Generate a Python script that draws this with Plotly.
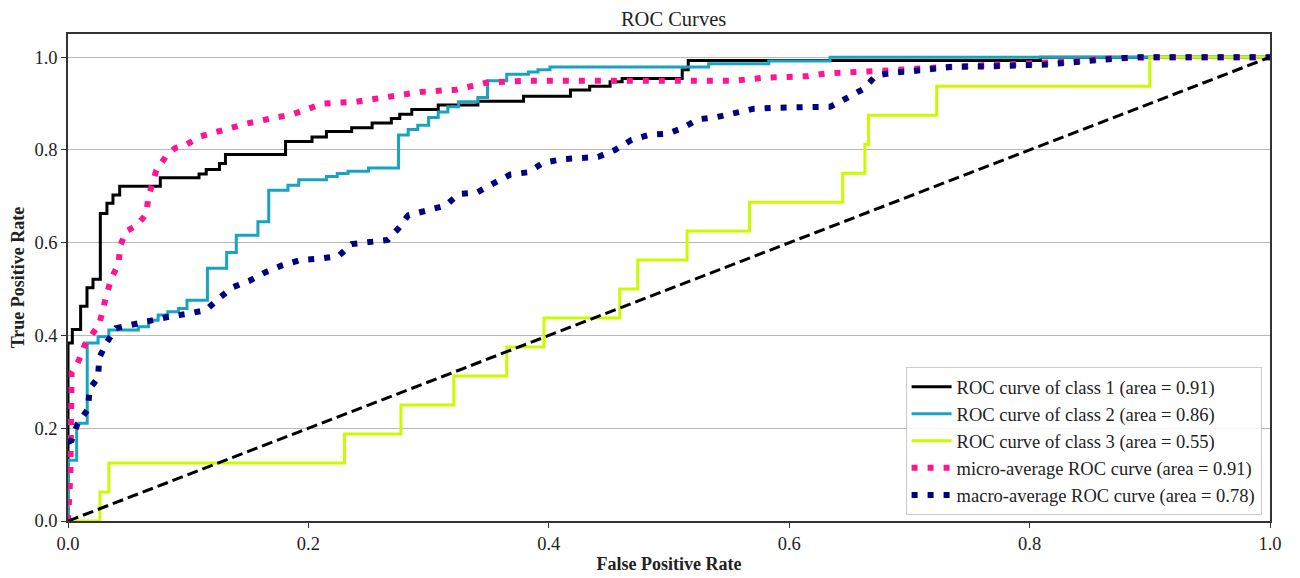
import plotly.graph_objects as go

# ---- data ----
class1_fpr = [0, 0, 0.0036, 0.0105, 0.0158, 0.0208, 0.0269, 0.0324, 0.0374, 0.043, 0.0768, 0.109, 0.115,
              0.126, 0.131, 0.181, 0.203, 0.215, 0.236, 0.253, 0.269, 0.276, 0.286, 0.308, 0.341, 0.379,
              0.418, 0.434, 0.451, 0.461, 0.511, 0.516, 0.809, 1.0]
class1_tpr = [0, 0.384, 0.413, 0.463, 0.503, 0.521, 0.663, 0.685, 0.703, 0.722, 0.740, 0.748, 0.758,
              0.771, 0.790, 0.818, 0.828, 0.840, 0.848, 0.858, 0.868, 0.877, 0.887, 0.897, 0.905, 0.916,
              0.929, 0.9375, 0.947, 0.954, 0.973, 0.993, 1.0, 1.0]

class2_fpr = [0, 0, 0.0072, 0.016, 0.025, 0.034, 0.0585, 0.067, 0.075, 0.083, 0.092, 0.099, 0.116, 0.132,
              0.140, 0.158, 0.167, 0.183, 0.192, 0.215, 0.224, 0.233, 0.25, 0.275, 0.283, 0.291, 0.30,
              0.308, 0.316, 0.325, 0.341, 0.349, 0.365, 0.383, 0.391, 0.401, 0.533, 0.583, 0.634, 1.0]
class2_tpr = [0, 0.131, 0.211, 0.384, 0.397, 0.412, 0.419, 0.433, 0.444, 0.451, 0.458, 0.476, 0.545, 0.579,
              0.616, 0.645, 0.713, 0.724, 0.736, 0.743, 0.749, 0.754, 0.761, 0.832, 0.844, 0.853, 0.870,
              0.882, 0.893, 0.904, 0.913, 0.949, 0.963, 0.968, 0.973, 0.979, 0.986, 0.992, 1.0, 1.0]

class3_fpr = [0, 0.0266, 0.034, 0.230, 0.277, 0.321, 0.365, 0.396, 0.459, 0.474, 0.515, 0.567, 0.6445,
              0.663, 0.666, 0.7227, 0.90, 1.0]
class3_tpr = [0, 0.0625, 0.125, 0.1875, 0.25, 0.3125, 0.375, 0.4375, 0.5, 0.5625, 0.625, 0.6875, 0.75,
              0.8125, 0.875, 0.9375, 1.0, 1.0]

micro_fpr = [0, 0.002, 0.003, 0.008, 0.014, 0.021, 0.026, 0.032, 0.036, 0.042, 0.0435, 0.0485, 0.057,
             0.065, 0.067, 0.0735, 0.082, 0.089, 0.098, 0.11, 0.123, 0.135, 0.147, 0.16, 0.173, 0.187,
             0.212, 0.24, 0.268, 0.293, 0.323, 0.348, 0.379, 0.553, 0.58, 0.615, 0.631, 0.659, 0.673,
             0.731, 0.761, 0.795, 0.828, 0.867, 0.90, 1.0]
micro_tpr = [0, 0.10, 0.32, 0.34, 0.38, 0.404, 0.424, 0.487, 0.523, 0.554, 0.594, 0.625, 0.637,
             0.661, 0.70, 0.756, 0.788, 0.804, 0.811, 0.829, 0.840, 0.847, 0.856, 0.864, 0.870, 0.877,
             0.90, 0.904, 0.914, 0.925, 0.93, 0.945, 0.949, 0.949, 0.956, 0.959, 0.965, 0.968, 0.970,
             0.979, 0.982, 0.986, 0.99, 0.997, 1.0, 1.0]

macro_fpr = [0, 0.003, 0.008, 0.0166, 0.018, 0.025, 0.026, 0.032, 0.04, 0.054, 0.071, 0.085, 0.1, 0.115,
             0.125, 0.137, 0.151, 0.164, 0.178, 0.193, 0.21, 0.225, 0.236, 0.251, 0.266, 0.275, 0.283,
             0.298, 0.314, 0.325, 0.34, 0.354, 0.368, 0.383, 0.395, 0.411, 0.426, 0.441, 0.455, 0.469,
             0.484, 0.499, 0.512, 0.524, 0.54, 0.556, 0.571, 0.587, 0.634, 0.648, 0.662, 0.672, 0.687,
             0.703, 0.719, 0.734, 0.764, 0.781, 0.798, 0.813, 0.829, 0.845, 0.861, 0.877, 0.892, 1.0]
macro_tpr = [0.17, 0.174, 0.21, 0.241, 0.285, 0.309, 0.352, 0.384, 0.416, 0.424, 0.431, 0.441, 0.447, 0.455,
             0.479, 0.504, 0.518, 0.536, 0.551, 0.5625, 0.566, 0.571, 0.597, 0.602, 0.606, 0.631, 0.659,
             0.669, 0.68, 0.705, 0.708, 0.728, 0.747, 0.752, 0.772, 0.78, 0.782, 0.785, 0.80, 0.822,
             0.833, 0.835, 0.848, 0.866, 0.871, 0.88, 0.889, 0.891, 0.893, 0.912, 0.932, 0.96, 0.967,
             0.97, 0.975, 0.979, 0.98, 0.983, 0.983, 0.984, 0.988, 0.99, 0.996, 0.998, 1.0, 1.0]

labels = ["ROC curve of class 1 (area = 0.91)",
          "ROC curve of class 2 (area = 0.86)",
          "ROC curve of class 3 (area = 0.55)",
          "micro-average ROC curve (area = 0.91)",
          "macro-average ROC curve (area = 0.78)"]

tick_vals = [0.0, 0.2, 0.4, 0.6, 0.8, 1.0]

SERIF = "Liberation Serif, Times New Roman, serif"

fig = go.Figure()
fig.add_trace(go.Scatter(x=class1_fpr, y=class1_tpr, mode="lines", name=labels[0],
                         line=dict(color="black", width=3, shape="hv")))
fig.add_trace(go.Scatter(x=class2_fpr, y=class2_tpr, mode="lines", name=labels[1],
                         line=dict(color="#18a4bf", width=3, shape="hv")))
fig.add_trace(go.Scatter(x=class3_fpr, y=class3_tpr, mode="lines", name=labels[2],
                         line=dict(color="#ccfa00", width=3, shape="hv")))
fig.add_trace(go.Scatter(x=micro_fpr, y=micro_tpr, mode="lines", name=labels[3],
                         line=dict(color="#ff1493", width=6, dash="6px,10px")))
fig.add_trace(go.Scatter(x=macro_fpr, y=macro_tpr, mode="lines", name=labels[4],
                         line=dict(color="#000080", width=6, dash="6px,10px")))
fig.add_trace(go.Scatter(x=[0, 1], y=[0, 1], mode="lines", showlegend=False,
                         line=dict(color="black", width=3, dash="11px,5px")))

axis_common = dict(
    showline=True, mirror=True, linecolor="#333333", linewidth=1.5,
    ticks="outside", ticklen=5, tickcolor="#333333", tickwidth=1.2,
    tickfont=dict(family=SERIF, size=18.5, color="#222222"),
    tickvals=tick_vals, tickformat=".1f", zeroline=False, automargin=False,
)

fig.update_layout(
    width=1300, height=578,
    margin=dict(l=60, r=38, t=26, b=65, autoexpand=False),
    paper_bgcolor="white", plot_bgcolor="white",
    title=dict(text="ROC Curves", x=0.512, xanchor="center", y=0.981, yanchor="middle",
               yref="container", font=dict(family=SERIF, size=20.5, color="#222222")),
    xaxis=dict(range=[0, 1], showgrid=False,
               title=dict(text="<b>False Positive Rate</b>", standoff=4,
                          font=dict(family=SERIF, size=18, color="#222222")),
               **axis_common),
    yaxis=dict(range=[0, 1.05], showgrid=True, gridcolor="#b8b8b8", gridwidth=1,
               title=dict(text="<b>True Positive Rate</b>", standoff=6,
                          font=dict(family=SERIF, size=18, color="#222222")),
               **axis_common),
    legend=dict(x=0.993, xanchor="right", y=0.012, yanchor="bottom",
                bgcolor="rgba(255,255,255,0.85)", bordercolor="#cccccc", borderwidth=1,
                font=dict(family=SERIF, size=18.5, color="#222222"),
                itemwidth=40, tracegroupgap=0),
    showlegend=True,
)

fig.write_html("out.html")
